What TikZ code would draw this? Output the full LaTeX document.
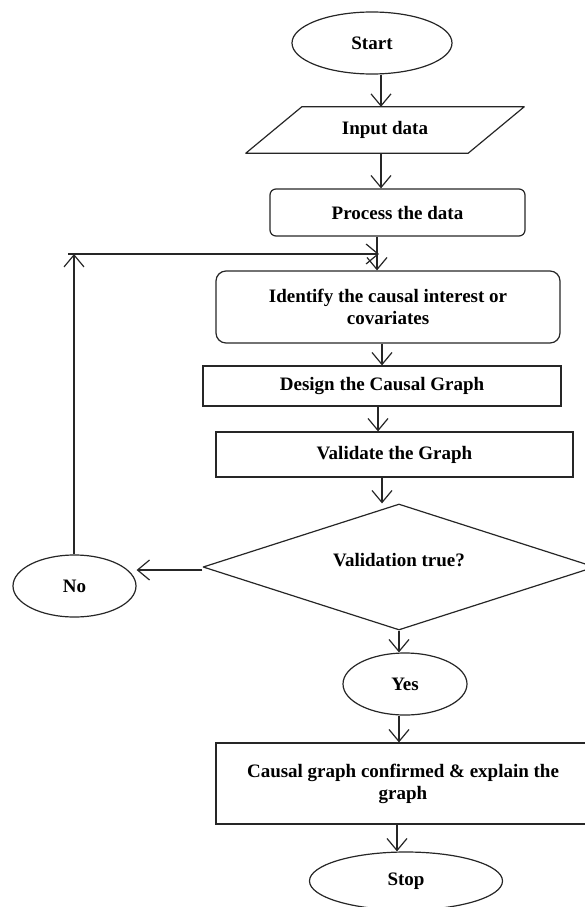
\documentclass[tikz,border=0pt]{standalone}
\usepackage{fontspec}
\setmainfont{Liberation Serif}
\usetikzlibrary{shapes.geometric,arrows.meta,calc}
\begin{document}
\begin{tikzpicture}[x=1pt,y=-1pt,
  every node/.style={font=\fontsize{19}{22}\selectfont\bfseries, inner sep=0pt, align=center},
  ln/.style={line width=1.2pt, draw=black!85},
  oval/.style={ln, draw, ellipse},
  rbox/.style={ln, draw, rectangle},
  arr/.style={ln, -{Straight Barb[length=12pt,width=20pt,line width=1.2pt]}}
]
\useasboundingbox (0,0) rectangle (585,907);
\clip (0,0) rectangle (585,907);

% nodes
\node[oval, minimum width=160pt, minimum height=62pt] (start) at (372,43) {\raisebox{-2pt}{Start}};
\node[minimum width=278pt, minimum height=46pt] (input) at (385,130) {\raisebox{-3pt}{Input data}};
\draw[ln, line join=round] ($(input.north west)+(56,0)$) -- (input.north east) -- ($(input.south east)+(-56,0)$) -- (input.south west) -- cycle;
\node[rbox, rounded corners=6pt, minimum width=255pt, minimum height=47pt] (proc) at (397.5,212.5) {Process the data};
\node[rbox, rounded corners=10pt, minimum width=344pt, minimum height=72pt] (ident) at (388,307) {Identify the causal interest or\\covariates};
\node[rbox, minimum width=358pt, minimum height=40pt] (design) at (382,386) {Design the Causal Graph};
\node[rbox, minimum width=357pt, minimum height=45pt] (valid) at (394.5,454.5) {Validate the Graph};
\node[ln, draw, diamond, minimum width=392pt, minimum height=126pt, line join=round] (dec) at (399,567) {};
\node (dectext) at (399,560) {Validation true?};
\node[oval, minimum width=123pt, minimum height=62pt] (no) at (74.5,586) {\raisebox{-2pt}{No}};
\node[oval, minimum width=124pt, minimum height=62pt] (yes) at (405,684) {\raisebox{-3pt}{Yes}};
\node[rbox, minimum width=374pt, minimum height=81pt] (causal) at (403,783.5) {Causal graph confirmed \& explain the\\graph};
\node[oval, minimum width=193pt, minimum height=58pt] (stop) at (406,881) {\raisebox{-3pt}{Stop}};

% connector columns
\coordinate (c1) at (381,0);
\coordinate (c2) at (377,0);
\coordinate (c3) at (382,0);
\coordinate (c4) at (378,0);
\coordinate (c5) at (399,0);
\coordinate (c6) at (397,0);
\coordinate (loopx) at (74,254);
\coordinate (loopstart) at (68,254);
\coordinate (loopend) at (379,254);
\coordinate (noy) at (0,570);

\draw[arr] (c1 |- start.south) -- (c1 |- input.north);
\draw[arr] (c1 |- input.south) -- (c1 |- proc.north);
\draw[arr] (c2 |- proc.south) -- (c2 |- ident.north);
\draw[arr] (c3 |- ident.south) -- (c3 |- design.north);
\draw[arr] (c4 |- design.south) -- (c4 |- valid.north);
\draw[arr] (c3 |- valid.south) -- (c3 |- dec.north);
\draw[arr] (dec.west |- noy) -- (no.east |- noy);
\draw[arr] (loopx |- no.north) -- (loopx);
\draw[arr] (loopstart) -- (loopend);
\draw[arr] (c5 |- dec.south) -- (c5 |- yes.north);
\draw[arr] (c5 |- yes.south) -- (c5 |- causal.north);
\draw[arr] (c6 |- causal.south) -- (c6 |- stop.north);
\end{tikzpicture}
\end{document}
